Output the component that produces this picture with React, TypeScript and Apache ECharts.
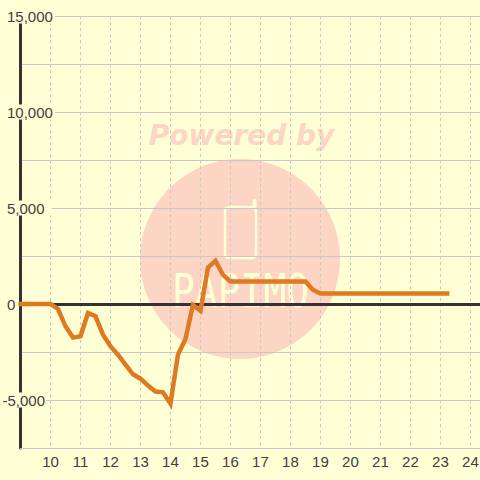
import React, { useEffect, useRef } from "react";
import * as echarts from "echarts";

const hours = [8.93, 10, 10.25, 10.5, 10.75, 11, 11.25, 11.5, 11.75, 12, 12.25, 12.5, 12.75, 13, 13.25, 13.5, 13.75, 14, 14.25, 14.5, 14.75, 15, 15.25, 15.5, 15.75, 16, 18.5, 18.75, 19, 23.3];
const values = [0, 0, -260, -1160, -1750, -1680, -470, -640, -1600, -2200, -2640, -3160, -3660, -3890, -4250, -4560, -4600, -5190, -2640, -1820, -50, -350, 1890, 2250, 1520, 1175, 1175, 740, 550, 550];
const xMin = 9;
const xMax = 24.32;
const yMin = -7500;
const yMax = 15000;
const yStep = 2500;
const watermarkTop = "Powered by";
const watermarkBottom = "PAPIMO";

const BG = "#ffffd5";
const WM = "#fcd5c5";
const DARK = "#333333";
const TEXT = "#404040";
const GRID = "#c8c8c8";

export default function App() {
  const ref = useRef<HTMLDivElement>(null);
  useEffect(() => {
    const chart = echarts.init(ref.current!, undefined, { renderer: "svg" });
    const labelFont = { fontFamily: "Liberation Sans", fontSize: 15, color: TEXT };
    chart.setOption({
      animation: false,
      backgroundColor: BG,
      grid: { left: 20.5, right: 0, top: 16, bottom: 32, containLabel: false, outerBoundsMode: "none" },
      graphic: [
        { type: "circle", z: -10, silent: true, shape: { cx: 240, cy: 259, r: 100 }, style: { fill: WM } },
        { type: "text", z: -10, silent: true, x: 241.5, y: 135, style: { text: watermarkTop, fill: WM, font: "italic bold 28px 'DejaVu Sans'", textAlign: "center", textVerticalAlign: "middle" } },
        { type: "rect", z: -9, silent: true, shape: { x: 225, y: 207, width: 31, height: 51, r: 4 }, style: { fill: "none", stroke: BG, lineWidth: 2.5 } },
        { type: "line", z: -9, silent: true, shape: { x1: 254.5, y1: 207, x2: 254.5, y2: 201 }, style: { stroke: BG, lineWidth: 4, lineCap: "round" } },
        { type: "text", z: -9, silent: true, x: 240.5, y: 291, scaleY: 1.2, style: { text: watermarkBottom, fill: BG, font: "38px 'DejaVu Sans Mono'", textAlign: "center", textVerticalAlign: "middle" } },
      ],
      xAxis: [
        {
          type: "value", min: xMin, max: xMax, interval: 1, position: "bottom",
          axisLine: { onZero: false, lineStyle: { color: GRID, width: 1 } },
          axisTick: { show: false },
          splitLine: { show: true, lineStyle: { color: GRID, width: 1, type: [3, 3] } },
          axisLabel: {
            ...labelFont, margin: 6, showMinLabel: false, showMaxLabel: false,
            formatter: (v: number) => (v === xMin || v > 24 ? "" : String(v)),
          },
        },
        {
          type: "value", min: xMin, max: xMax, interval: 1,
          axisLine: { show: true, onZero: true, lineStyle: { color: DARK, width: 3 } },
          axisTick: { show: false }, axisLabel: { show: false }, splitLine: { show: false },
        },
      ],
      yAxis: {
        type: "value", min: yMin, max: yMax, interval: yStep, position: "left",
        axisLine: { show: true, onZero: false, lineStyle: { color: DARK, width: 3 } },
        axisTick: { show: false },
        splitLine: { show: true, lineStyle: { color: GRID, width: 1 } },
        axisLabel: {
          ...labelFont, margin: 18, align: "left", showMinLabel: true,
          rich: {
            gap: { width: 4.5 },
            wide: { ...labelFont, backgroundColor: BG, padding: [0, 2, 0, 0] },
            mid: { ...labelFont, backgroundColor: BG, padding: [0, 7, 0, 0] },
            neg: { ...labelFont, backgroundColor: BG, padding: [0, 1, 0, 0] },
            zero: { ...labelFont },
          },
          formatter: (v: number) => {
            if (v % 5000 !== 0) return "";
            const s = v.toLocaleString("en-US");
            if (v < 0) return `{neg|${s}}`;
            if (v === 0) return `{gap| }{zero|${s}}`;
            return v === 5000 ? `{gap| }{mid|${s}}` : `{gap| }{wide|${s}}`;
          },
        },
      },
      series: [
        {
          type: "line", xAxisIndex: 0, data: hours.map((h, i) => [h, values[i]]),
          showSymbol: false, symbol: "none", smooth: false, clip: false,
          lineStyle: { color: "#dd7a22", width: 4.5, join: "miter", cap: "butt" },
        },
      ],
    });
    return () => chart.dispose();
  }, []);
  return <div ref={ref} style={{ position: "fixed", left: 0, top: 0, width: 480, height: 480 }} />;
}
